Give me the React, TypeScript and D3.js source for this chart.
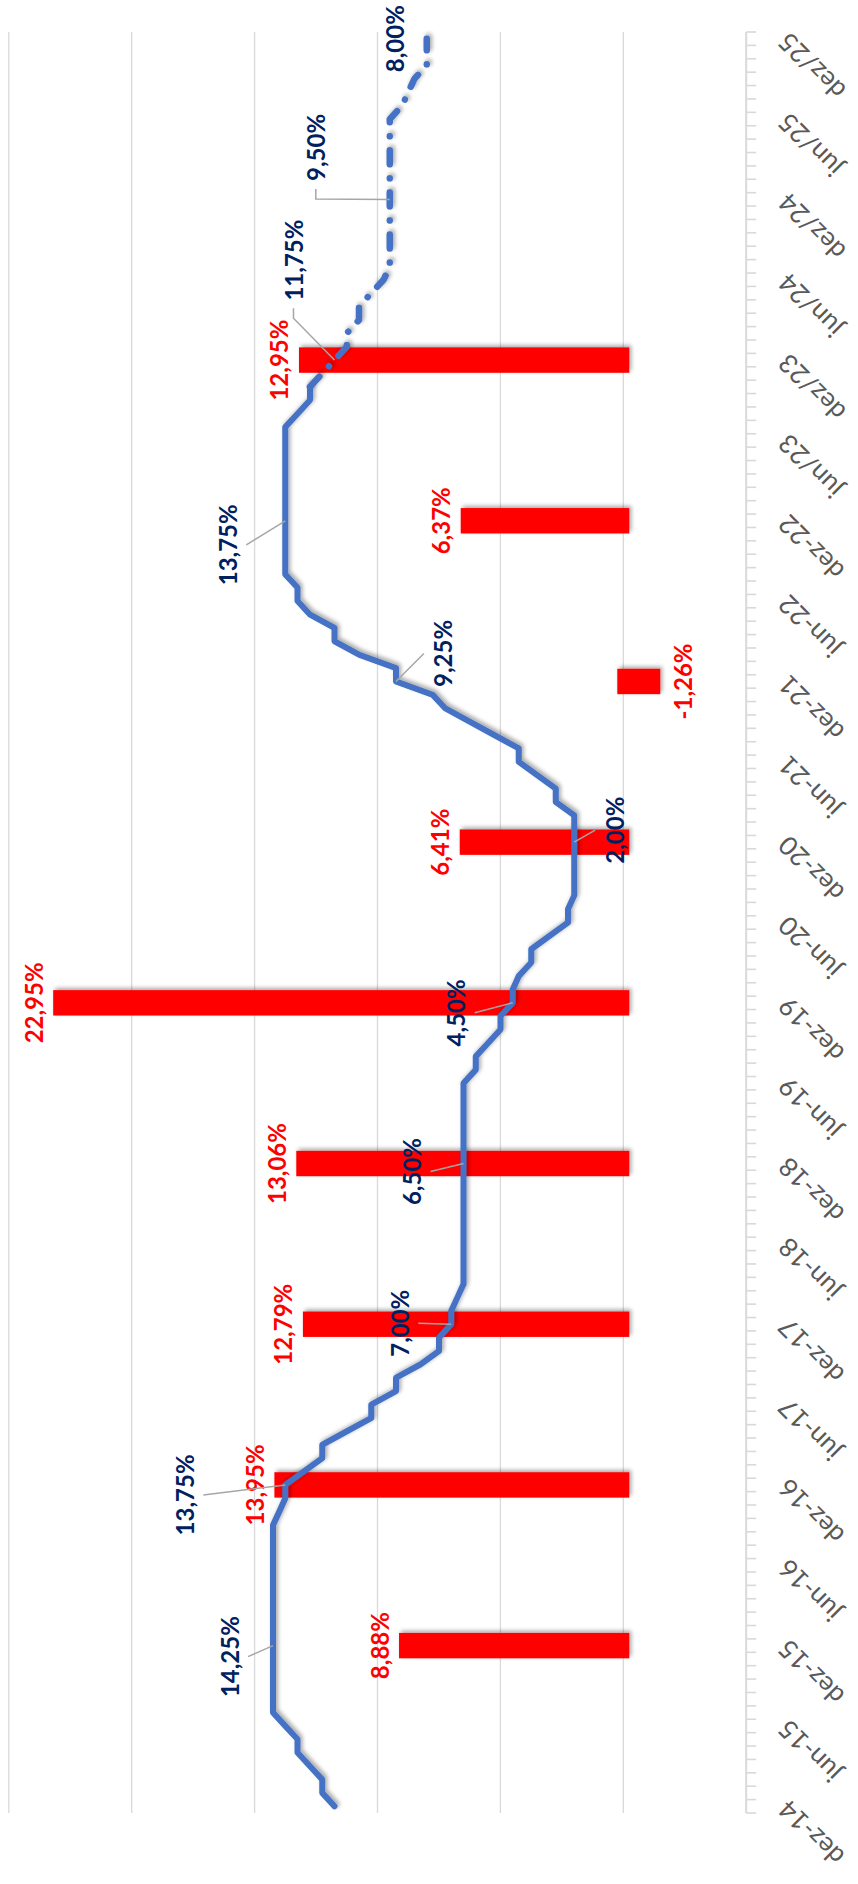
import React from 'react';
import * as d3 from 'd3';

// Page and chart geometry (the chart is laid out landscape and turned -90°)
const W = 858;
const H = 1884;

const monthNames = ['jan', 'fev', 'mar', 'abr', 'mai', 'jun', 'jul', 'ago', 'set', 'out', 'nov', 'dez'];

// Monthly categories, dez-14 .. dez-25
const categories: string[] = [];
for (let k = 0; k < 133; k++) {
  const m = (11 + k) % 12;
  const yy = 14 + Math.floor((11 + k) / 12);
  categories.push(`${monthNames[m]}-${yy}`);
}

// Axis labels shown every six months
const tickLabels = [
  'dez-14', 'jun-15', 'dez-15', 'jun-16', 'dez-16', 'jun-17', 'dez-17', 'jun-18',
  'dez-18', 'jun-19', 'dez-19', 'jun-20', 'dez-20', 'jun-21', 'dez-21', 'jun-22',
  'dez-22', 'jun/23', 'dez/23', 'jun/24', 'dez/24', 'jun/25', 'dez/25',
];

// Selic rate (%) at each month end; from out-23 on it is a projection
const selic = [
  11.75,
  12.25, 12.25, 12.75, 13.25, 13.25, 13.75, 14.25, 14.25, 14.25, 14.25, 14.25, 14.25,
  14.25, 14.25, 14.25, 14.25, 14.25, 14.25, 14.25, 14.25, 14.25, 14.0, 13.75, 13.75,
  13.0, 12.25, 12.25, 11.25, 10.25, 10.25, 9.25, 9.25, 8.25, 7.5, 7.5, 7.0,
  7.0, 6.75, 6.5, 6.5, 6.5, 6.5, 6.5, 6.5, 6.5, 6.5, 6.5, 6.5,
  6.5, 6.5, 6.5, 6.5, 6.5, 6.5, 6.0, 6.0, 5.5, 5.0, 5.0, 4.5,
  4.5, 4.25, 3.75, 3.75, 3.0, 2.25, 2.25, 2.0, 2.0, 2.0, 2.0, 2.0,
  2.0, 2.0, 2.75, 2.75, 3.5, 4.25, 4.25, 5.25, 6.25, 7.25, 7.75, 9.25,
  9.25, 10.75, 11.75, 11.75, 12.75, 13.25, 13.25, 13.75, 13.75, 13.75, 13.75, 13.75,
  13.75, 13.75, 13.75, 13.75, 13.75, 13.75, 13.75, 13.25, 12.75, 12.75, 12.25, 11.75,
  11.25, 11.25, 10.75, 10.75, 10.25, 9.75, 9.5, 9.5, 9.5, 9.5, 9.5, 9.5,
  9.5, 9.5, 9.5, 9.5, 9.5, 9.5, 9.0, 8.75, 8.5, 8.0, 8.0, 8.0,
];
const projectionFrom = 'out-23';

// Yearly values drawn as bars (%)
const barCats = ['dez-15', 'dez-16', 'dez-17', 'dez-18', 'dez-19', 'dez-20', 'dez-21', 'dez-22', 'dez-23'];
const barValues = [8.88, 13.95, 12.79, 13.06, 22.95, 6.41, -1.26, 6.37, 12.95];

// Rate points that carry a label
const rateLabelCats = ['dez-15', 'dez-16', 'dez-17', 'dez-18', 'dez-19', 'dez-20', 'dez-21', 'dez-22', 'dez-23', 'dez-24', 'dez-25'];

// Value axis
const valueDomain: [number, number] = [-5, 25];
const gridValues = [0, 5, 10, 15, 20, 25];

// Label placement (landscape coordinates): offset from the point and where the leader attaches
type Lead = 'bottom' | 'top' | 'side' | 'none';
const rateLabelLayout: { du: number; dv: number; lead: Lead }[] = [
  { du: -11, dv: -44, lead: 'bottom' },
  { du: -10, dv: -101, lead: 'bottom' },
  { du: 1, dv: -52, lead: 'bottom' },
  { du: -8, dv: -52, lead: 'bottom' },
  { du: -10, dv: -57, lead: 'bottom' },
  { du: 12, dv: 40, lead: 'top' },
  { du: 28, dv: 47, lead: 'top' },
  { du: -24, dv: -58, lead: 'bottom' },
  { du: 100, dv: -41, lead: 'side' },
  { du: 52, dv: -74, lead: 'side' },
  { du: 0, dv: -32, lead: 'none' },
];

const fmt = (v: number) => v.toFixed(2).replace('.', ',') + '%';

const LINE_BLUE = '#4472C4';
const NAVY = '#002060';
const RED = '#FF0000';
const GRID = '#D9D9D9';
const FONT = 'Lato, "Open Sans", sans-serif';

export default function App() {
  const innerW = H; // landscape width
  const u0 = 71;
  const u1 = 1852;
  const x = d3.scaleBand<number>().domain(d3.range(categories.length)).range([u0, u1]).padding(0);
  const bw = x.bandwidth();
  const cx = (i: number) => (x(i) as number) + bw / 2;
  const y = d3.scaleLinear().domain(valueDomain).range([746.2, 8.8]);
  const axisV = y(valueDomain[0]);

  const line = d3
    .line<number>()
    .x((_, i) => cx(i))
    .y((d) => y(d));

  const pIdx = categories.indexOf(projectionFrom);
  const solidPath = line(selic.slice(0, pIdx + 1)) || '';
  const dashedPath =
    d3
      .line<number>()
      .x((_, i) => cx(i + pIdx))
      .y((d) => y(d))(selic.slice(pIdx)) || '';

  const boundaries = d3.range(categories.length + 1).map((k) => u0 + k * bw);

  return (
    <div style={{ position: 'absolute', left: 0, top: 0 }}>
      <svg width={W} height={H} viewBox={`0 0 ${W} ${H}`} style={{ display: 'block', background: '#fff' }}>
        <defs>
          <filter id="soft" filterUnits="userSpaceOnUse" x={-100} y={-100} width={2100} height={1100}>
            <feGaussianBlur in="SourceAlpha" stdDeviation={2} />
            <feOffset dx={2} dy={2} result="off" />
            <feComponentTransfer>
              <feFuncA type="linear" slope={0.35} />
            </feComponentTransfer>
            <feMerge>
              <feMergeNode />
              <feMergeNode in="SourceGraphic" />
            </feMerge>
          </filter>
        </defs>
        <g transform={`translate(0,${H}) rotate(-90)`}>
          <rect x={0} y={0} width={innerW} height={W} fill="#fff" />
          {/* gridlines */}
          {gridValues.map((g) => (
            <line key={g} x1={u0} x2={u1} y1={y(g)} y2={y(g)} stroke={GRID} strokeWidth={1.3} />
          ))}
          {/* category axis with monthly ticks */}
          <line x1={u0} x2={u1} y1={axisV} y2={axisV} stroke={GRID} strokeWidth={2} />
          {boundaries.map((b, k) => (
            <line key={k} x1={b} x2={b} y1={axisV} y2={axisV + 10} stroke={GRID} strokeWidth={1.6} />
          ))}
          {tickLabels.map((t, k) => {
            const i = k * 6;
            const ax = cx(i) + 1.6;
            const ay = axisV + 37;
            return (
              <text
                key={t}
                transform={`translate(${ax},${ay}) rotate(-45)`}
                textAnchor="end"
                dy="0.35em"
                fontFamily={FONT}
                fontSize={26}
                fill="#595959"
              >
                {t}
              </text>
            );
          })}

          {/* bars */}
          {barValues.map((v, k) => {
            const i = categories.indexOf(barCats[k]);
            const top = y(Math.max(v, 0));
            const bot = y(Math.min(v, 0));
            return (
              <rect
                key={barCats[k]}
                x={x(i) as number}
                y={top}
                width={bw}
                height={bot - top}
                fill={RED}
                stroke={RED}
                strokeWidth={12}
                filter="url(#soft)"
              />
            );
          })}

          {/* rate line */}
          <path d={solidPath} fill="none" stroke={LINE_BLUE} strokeWidth={6} strokeLinejoin="round" strokeLinecap="round" filter="url(#soft)" />
          <path
            d={dashedPath}
            fill="none"
            stroke={LINE_BLUE}
            strokeWidth={6.5}
            strokeLinejoin="round"
            strokeLinecap="round"
            strokeDasharray="14 14 0.1 14"
            filter="url(#soft)"
          />

          {/* bar labels */}
          {barValues.map((v, k) => {
            const i = categories.indexOf(barCats[k]);
            const ly = v >= 0 ? y(v) - 26 : y(v) + 28;
            return (
              <text
                key={'bl' + k}
                x={cx(i)}
                y={ly}
                textAnchor="middle"
                dominantBaseline="central"
                fontFamily={FONT}
                fontWeight={700}
                fontSize={24}
                fill={RED}
              >
                {fmt(v)}
              </text>
            );
          })}

          {/* rate labels with leaders */}
          {rateLabelCats.map((c, k) => {
            const i = categories.indexOf(c);
            const v = selic[i];
            const pu = cx(i);
            const pv = y(v);
            const lay = rateLabelLayout[k];
            const lu = pu + lay.du;
            const lv = pv + lay.dv;
            const txt = fmt(v);
            const half = (txt.length * 13.4) / 2;
            let pts: [number, number][] = [];
            if (lay.lead === 'bottom') pts = [[lu, lv + 19], [pu, pv]];
            else if (lay.lead === 'top') pts = [[lu, lv - 19], [pu, pv]];
            else if (lay.lead === 'side') pts = [[lu - half - 8, lv], [lu - half - 18, lv], [pu, pv]];
            return (
              <g key={'rl' + k}>
                {pts.length > 0 && (
                  <polyline points={pts.map((p) => p.join(',')).join(' ')} fill="none" stroke="#A6A6A6" strokeWidth={1.5} />
                )}
                <text
                  x={lu}
                  y={lv}
                  textAnchor="middle"
                  dominantBaseline="central"
                  fontFamily={FONT}
                  fontWeight={700}
                  fontSize={24}
                  fill={NAVY}
                >
                  {txt}
                </text>
              </g>
            );
          })}
        </g>
      </svg>
    </div>
  );
}
